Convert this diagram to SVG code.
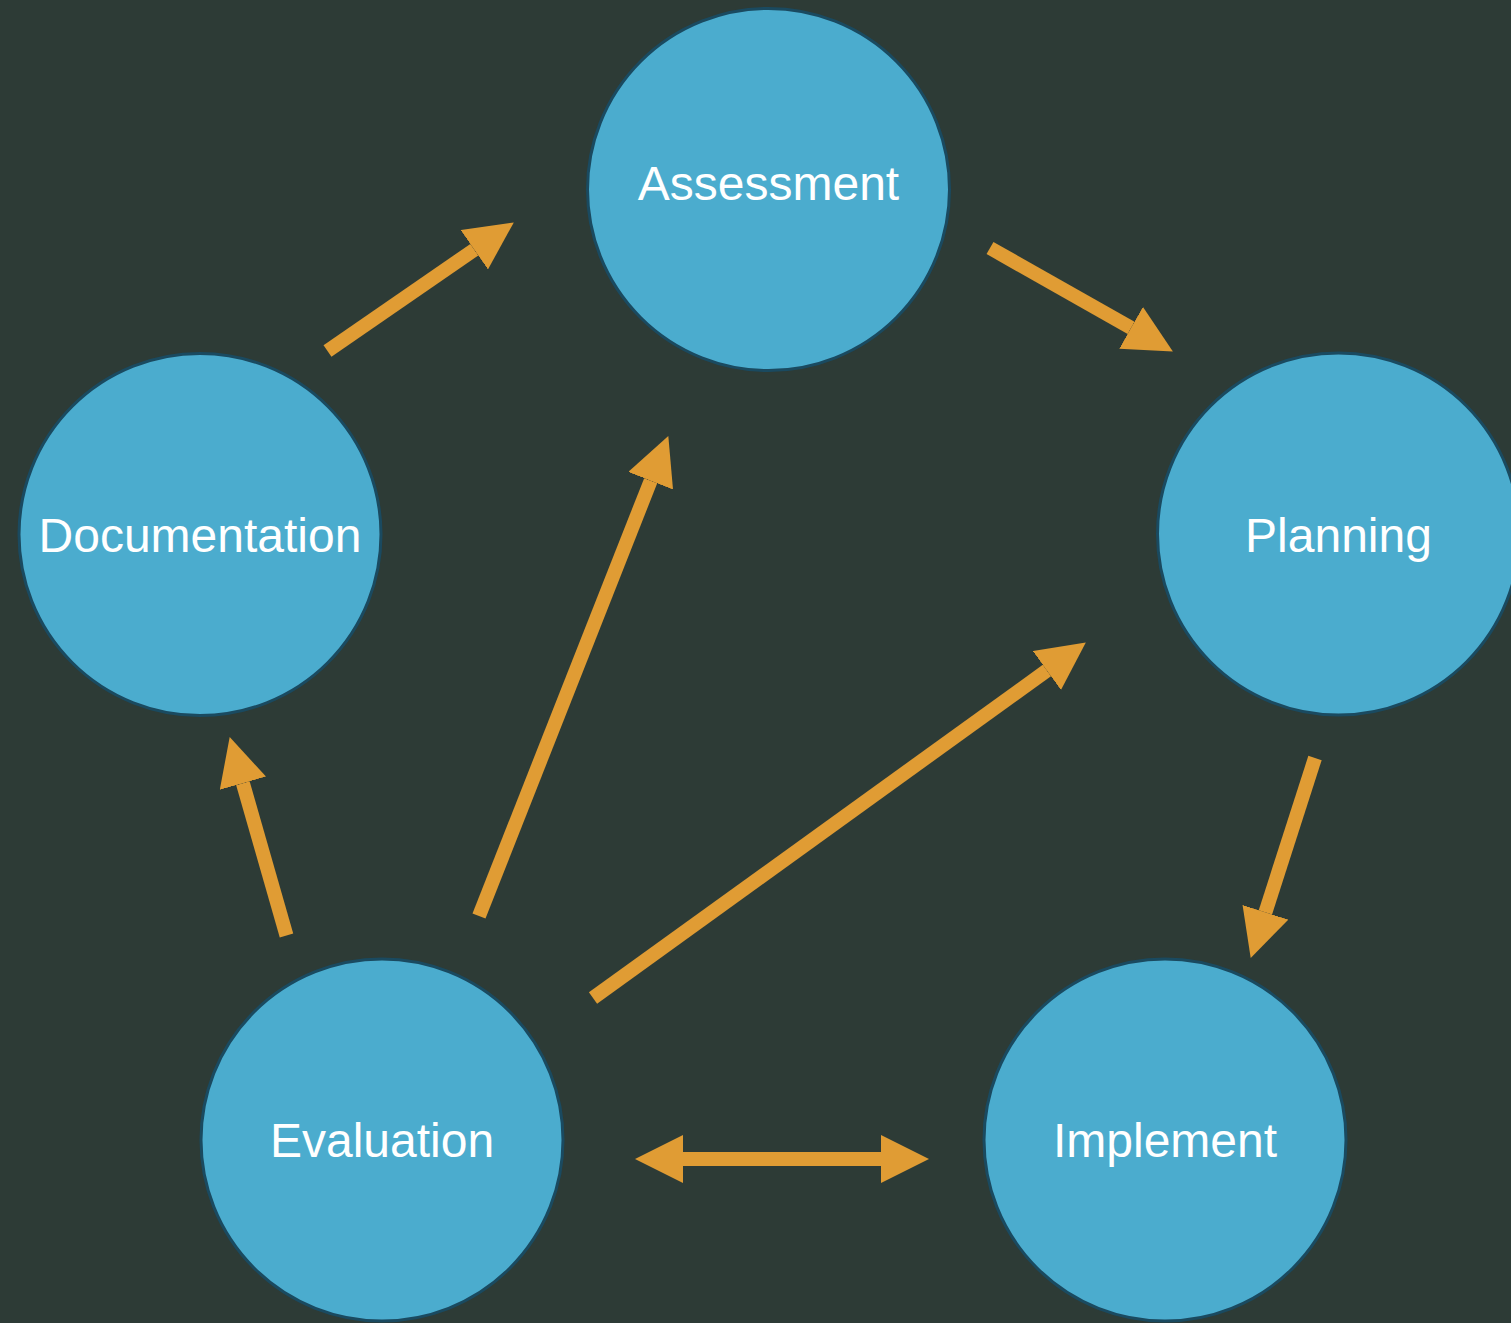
<svg xmlns="http://www.w3.org/2000/svg" width="1511" height="1323" viewBox="0 0 1511 1323">
<style>
.node circle{fill:#4BACCE;stroke:#1A4A60;stroke-width:3}
.node text{fill:#FFFFFF;font-family:"Liberation Sans",Arial,sans-serif;font-size:48px;text-anchor:middle}
.edge{stroke:#E09C34;stroke-width:14;fill:none}
</style>
<defs>
<marker id="ah" markerUnits="userSpaceOnUse" markerWidth="48" markerHeight="48" refX="0" refY="23.5" orient="auto-start-reverse" viewBox="0 0 47 47">
<path d="M0,0 L47,23.5 L0,47 Z" fill="#E09C34"/>
</marker>
</defs>
<rect width="1511" height="1323" fill="#2D3B36"/>
<g id="connectors">
<line class="edge" x1="327.5" y1="351" x2="474.3" y2="249.7" marker-end="url(#ah)"/>
<line class="edge" x1="990" y1="248" x2="1131.1" y2="327.8" marker-end="url(#ah)"/>
<line class="edge" x1="1315" y1="758" x2="1265.4" y2="912.3" marker-end="url(#ah)"/>
<line class="edge" x1="286.5" y1="935.5" x2="242.9" y2="783.2" marker-end="url(#ah)"/>
<line class="edge" x1="479" y1="916" x2="650.7" y2="480.7" marker-end="url(#ah)"/>
<line class="edge" x1="593" y1="998" x2="1046.9" y2="670.5" marker-end="url(#ah)"/>
<line class="edge" x1="683" y1="1159" x2="881" y2="1159" marker-start="url(#ah)" marker-end="url(#ah)"/>
</g>
<g id="assessment" class="node"><circle cx="768.5" cy="189.5" r="181"/><text x="768.5" y="200">Assessment</text></g>
<g id="planning" class="node"><circle cx="1338.5" cy="534" r="181"/><text x="1338.5" y="552">Planning</text></g>
<g id="documentation" class="node"><circle cx="200" cy="534.5" r="181"/><text x="200" y="552">Documentation</text></g>
<g id="evaluation" class="node"><circle cx="382" cy="1140" r="181"/><text x="382" y="1157">Evaluation</text></g>
<g id="implement" class="node"><circle cx="1165" cy="1140" r="181"/><text x="1165" y="1157">Implement</text></g>
</svg>
